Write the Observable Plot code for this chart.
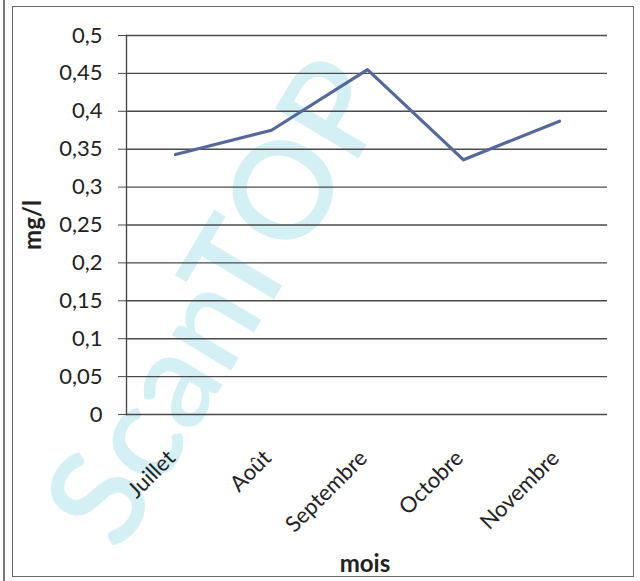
<!DOCTYPE html>
<html>
<head>
<meta charset="utf-8">
<script src="https://cdn.jsdelivr.net/npm/d3@7"></script>
<script src="https://cdn.jsdelivr.net/npm/@observablehq/plot@0.6"></script>
<style>
  body { margin: 0; background: #fff; }
  #chart { position: relative; width: 640px; height: 581px; overflow: hidden; }
  #chart svg { position: absolute; left: 0; top: 0; }
  #chart .border { position: absolute; left: 12px; top: 6px; width: 622px; height: 571px;
    border: 1.5px solid #6a6a6a; box-sizing: border-box; pointer-events: none; }
  #chart .edge { position: absolute; left: 3px; top: 0; height: 581px; border-left: 2px solid #7a7a7a; }
</style>
</head>
<body>
<div id="chart"><div class="edge"></div><div class="border"></div></div>
<script>
// Monthly concentration (mg/l)
const months = ["Juillet", "Août", "Septembre", "Octobre", "Novembre"];
const values = [0.343, 0.375, 0.455, 0.336, 0.387];
const yTicks = [0, 0.05, 0.1, 0.15, 0.2, 0.25, 0.3, 0.35, 0.4, 0.45, 0.5];
const watermark = ["ScanTOP"];

const data = months.map((mois, i) => ({mois, v: values[i]}));
const frNum = d => d3.format(".2~f")(d).replace(".", ",");

const chart = Plot.plot({
  width: 640,
  height: 581,
  marginLeft: 126,
  marginRight: 33,
  marginTop: 35,
  marginBottom: 167,
  style: {fontFamily: "Lato, 'Open Sans', sans-serif", fontSize: "22px", color: "#222", background: "transparent", overflow: "visible"},
  x: {type: "point", domain: months, padding: 0.5},
  y: {domain: [0, 0.5]},
  marks: [
    // faint diagonal watermark behind the chart
    Plot.text(watermark, {frameAnchor: "bottom-left", textAnchor: "start", lineAnchor: "bottom",
      rotate: -59, dx: -6, dy: 140, fontSize: 135, fontWeight: 600, fill: "#d3f1f5"}),
    Plot.ruleY(yTicks, {y: d => d, stroke: "#4a4a4a", strokeWidth: 1.4}),
    Plot.axisY({ticks: yTicks, tickFormat: frNum, tickSize: 8, tickPadding: 16, stroke: "#4a4a4a", label: null}),
    Plot.axisX({tickRotate: -45, tickSize: 0, tickPadding: 40, dx: -4, label: null}),
    Plot.frame({anchor: "left", stroke: "#4a4a4a", strokeWidth: 1.4}),
    Plot.line(data, {x: "mois", y: "v", stroke: "#5468a0", strokeWidth: 3.2}),
    Plot.text(["mg/l"], {frameAnchor: "left", textAnchor: "middle", lineAnchor: "middle",
      rotate: -90, dx: -93, fontWeight: "bold", fontSize: 24}),
    Plot.text(["mois"], {frameAnchor: "bottom", textAnchor: "middle", lineAnchor: "middle",
      dy: 150, dx: -2, fontWeight: "bold", fontSize: 24})
  ]
});
document.getElementById("chart").prepend(chart);
</script>
</body>
</html>
